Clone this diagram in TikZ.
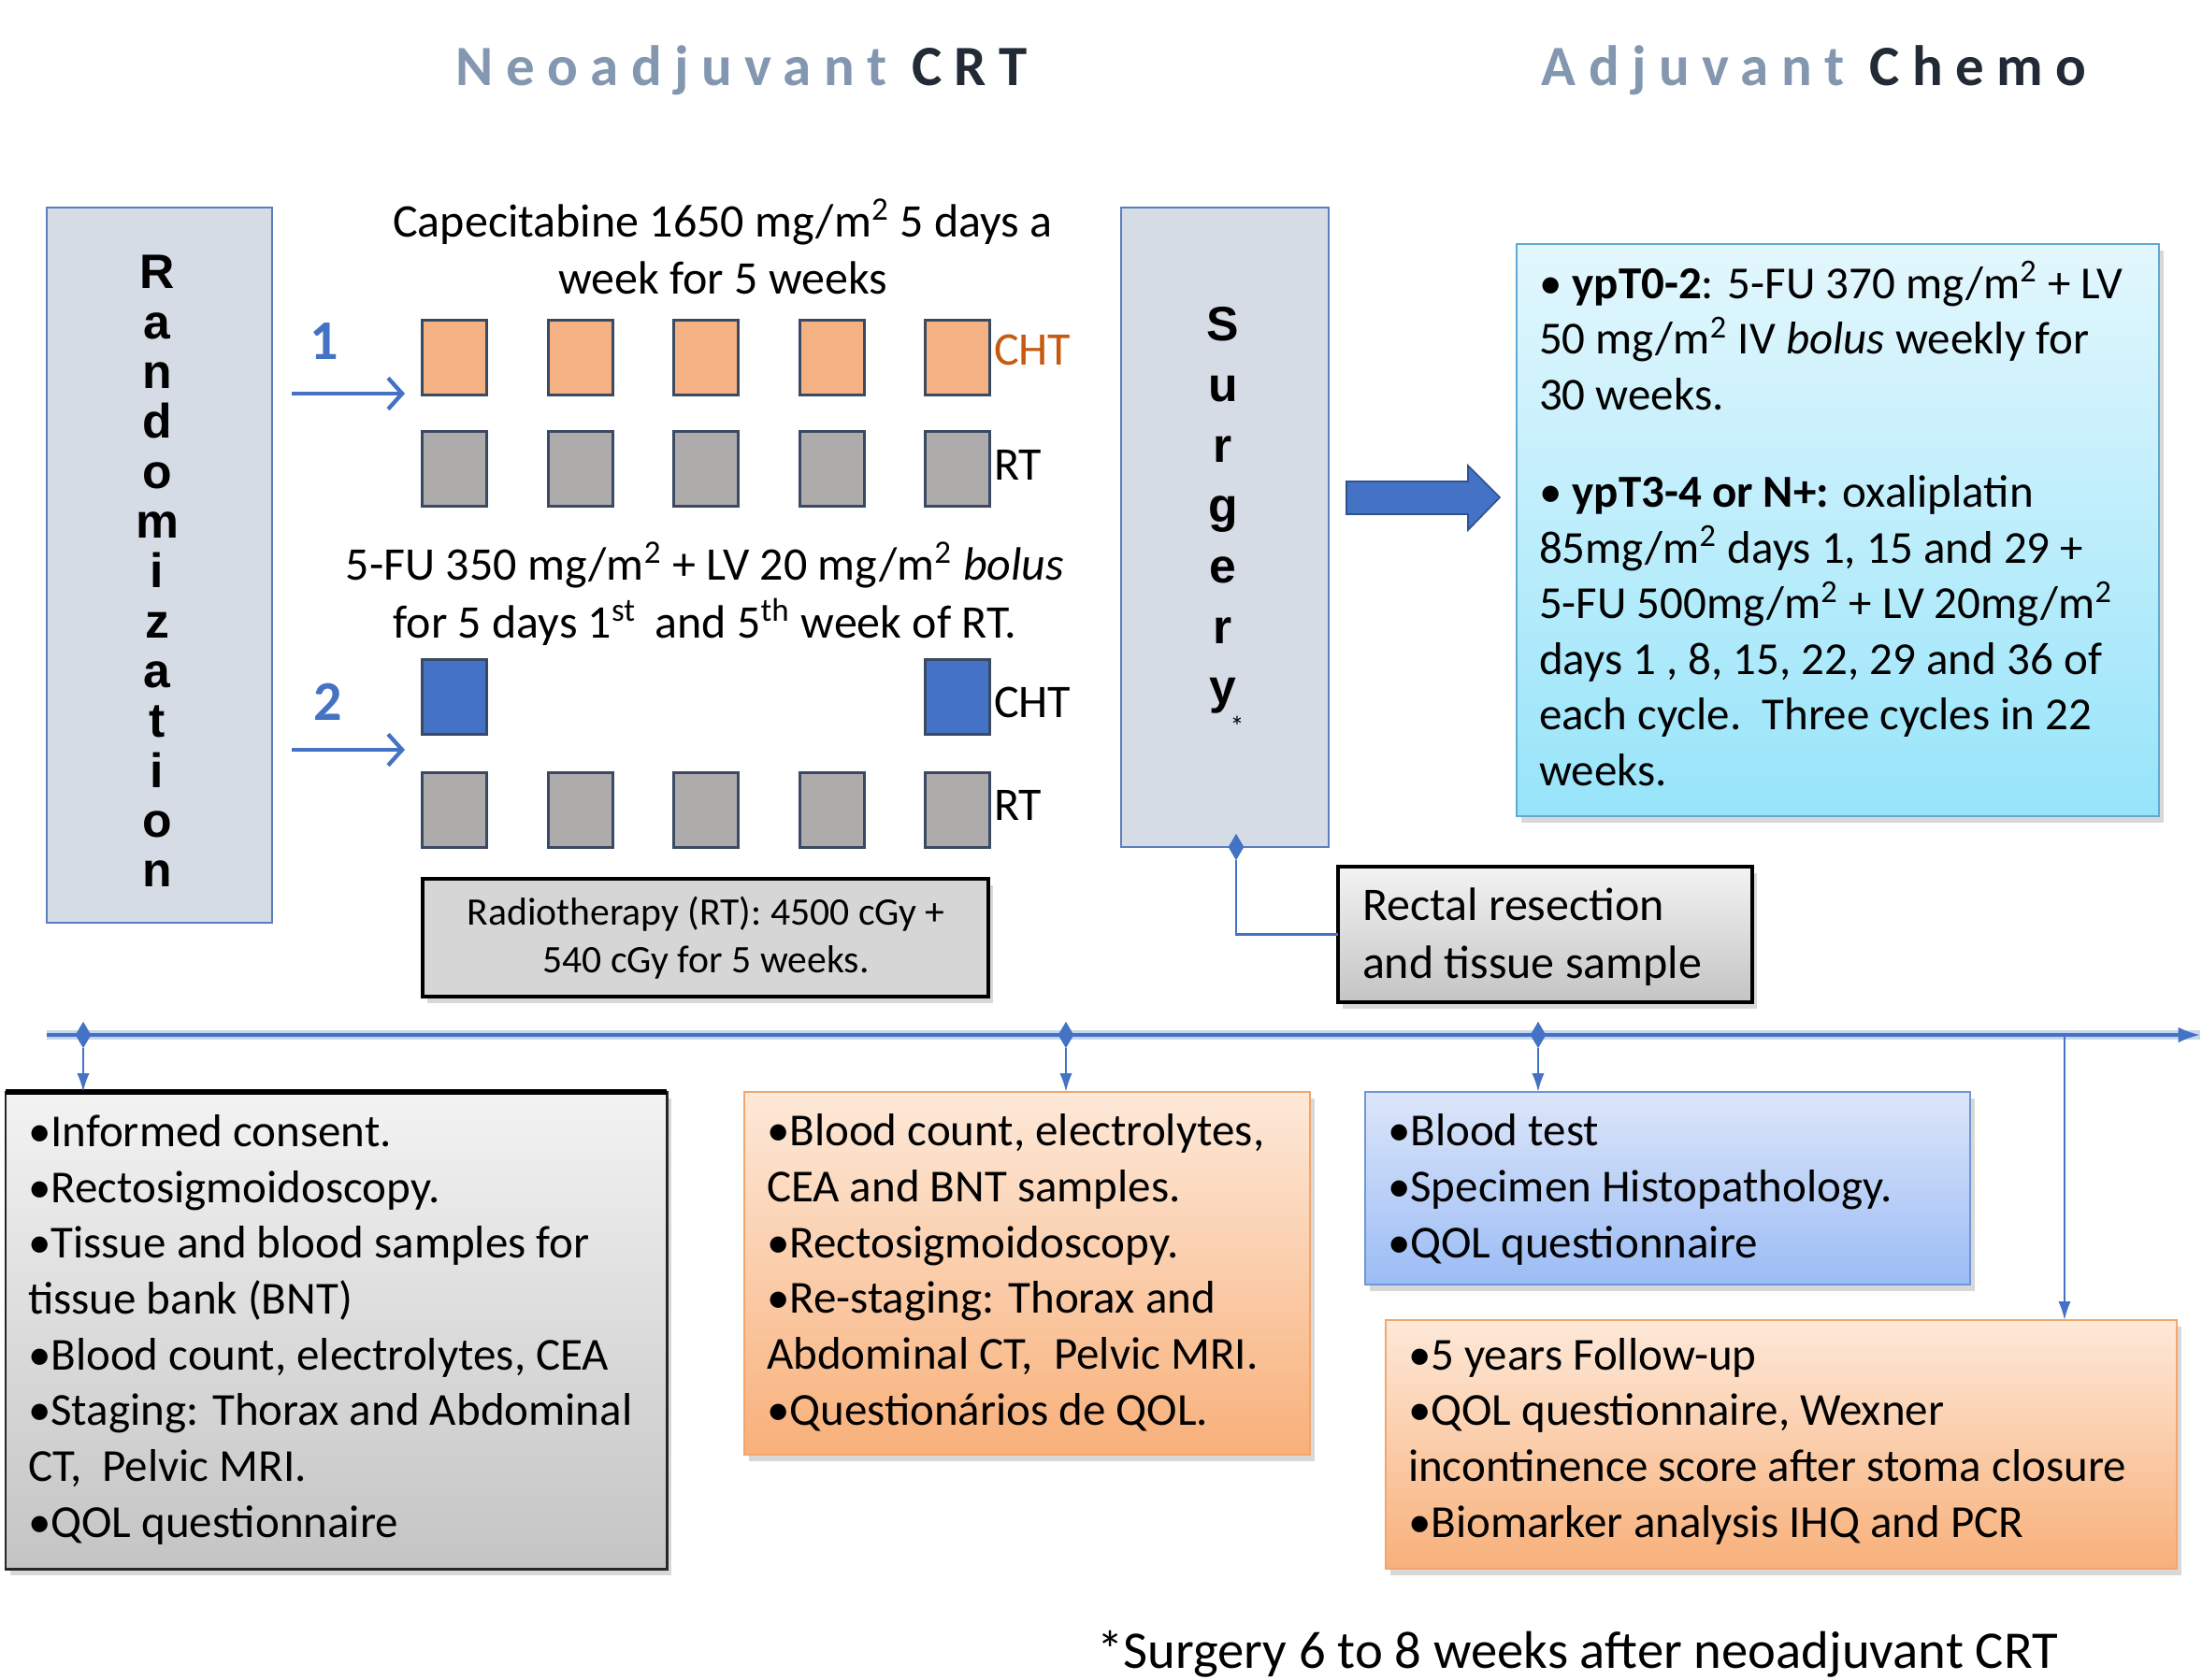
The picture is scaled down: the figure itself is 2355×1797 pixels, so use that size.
\documentclass[tikz,border=0pt]{standalone}
\usepackage{fontspec}
\setmainfont{Carlito}
\newfontfamily\vertfont{Liberation Sans}
\newfontfamily\titlefont{Carlito}[LetterSpace=22]
\usetikzlibrary{fit,shapes.geometric,shadows,arrows.meta}
\newcommand\myfs[2]{\fontsize{#1}{#2}\selectfont}
\definecolor{randfill}{HTML}{D6DCE5}
\definecolor{randdraw}{HTML}{5B7DBD}
\definecolor{sqdraw}{HTML}{3B4A63}
\definecolor{orsq}{HTML}{F4B183}
\definecolor{grsq}{HTML}{AEABAB}
\definecolor{blsq}{HTML}{4472C4}
\definecolor{chtor}{HTML}{C55A11}
\definecolor{ttlgray}{HTML}{8497B0}
\definecolor{ttldark}{HTML}{222A35}
\definecolor{connc}{HTML}{4472C4}
\definecolor{adjtop}{HTML}{E3F7FD}
\definecolor{adjbot}{HTML}{97E4FA}
\definecolor{adjdraw}{HTML}{5FAAD0}
\definecolor{grtop}{HTML}{F3F3F3}
\definecolor{grbot}{HTML}{C4C4C4}
\definecolor{ortop}{HTML}{FDE9D9}
\definecolor{orbot}{HTML}{F8B07A}
\definecolor{ordraw}{HTML}{F2A66C}
\definecolor{bltop}{HTML}{DCE6F9}
\definecolor{blbot}{HTML}{9BBCF5}
\definecolor{bldraw}{HTML}{7196D6}
\definecolor{rtfill}{HTML}{D6D6D6}
\definecolor{bigdraw}{HTML}{2F528F}
\begin{document}
\begin{tikzpicture}[x=0.3pt,y=-0.3pt,
  every node/.style={inner sep=0pt,outer sep=0pt},
  tallbox/.style={draw=randdraw,fill=randfill,line width=0.8pt},
  sqbox/.style={draw=sqdraw,line width=0.9pt,minimum width=20.7pt,minimum height=24pt},
  lbl/.style={font=\myfs{15}{18},anchor=mid west},
  vert/.style={font=\vertfont\bfseries\myfs{15.5}{16},align=center},
  numlbl/.style={font=\bfseries\myfs{18}{20},text=connc},
  bluearr/.style={draw=connc,line width=1.3pt,-{Straight Barb[length=4.5pt,width=10pt]}},
  connline/.style={draw=connc,line width=0.7pt},
  connarr/.style={draw=connc,line width=0.7pt,-{Latex[length=6pt,width=4pt]}},
  dmd/.style={diamond,fill=connc,minimum width=5pt,minimum height=8.5pt},
  shad/.style={drop shadow={shadow xshift=1.5pt,shadow yshift=-2pt,opacity=0.3}},
  boxtxt/.style={font=\myfs{14.7}{17.9},align=left,anchor=base west},
  ttl/.style={font=\titlefont\bfseries\myfs{18.3}{21}}
]
\useasboundingbox[fill=white] (0,0) rectangle (2355,1797);

% titles
\node[ttl] (t1) at (793,75) {\textcolor{ttlgray}{Neoadjuvant} \textcolor{ttldark}{CRT}};
\node[ttl] (t2) at (1940,75) {\textcolor{ttlgray}{Adjuvant} \textcolor{ttldark}{Chemo}};

% randomization
\node[tallbox,fit={(50,222) (291,987)}] (rand) {};
\node[vert] (randtxt) at (168,611) {R\\a\\n\\d\\o\\m\\i\\z\\a\\t\\i\\o\\n};

% surgery
\node[tallbox,fit={(1199,222) (1421,906)}] (surg) {};
\node[vert,font=\vertfont\bfseries\myfs{15.5}{19.4}] (surgtxt) at (1308,546) {S\\u\\r\\g\\e\\r\\y};
\node[font=\myfs{9}{10}] (ast) at (1323,777) {*};

% texts of arms
\node[font=\myfs{15}{18.5},align=center,anchor=base] (capetxt) at (773,315) {Capecitabine 1650 mg/m\textsuperscript{2} 5 days a\\week for 5 weeks};
\node[font=\myfs{15}{18.5},align=center,anchor=base] (futxt) at (754,682) {5-FU 350 mg/m\textsuperscript{2} + LV 20 mg/m\textsuperscript{2} \emph{bolus}\\for 5 days 1\textsuperscript{st}\, and 5\textsuperscript{th} week of RT.};

% squares
\foreach \x [count=\i] in {486,621,755,890,1024} {
  \node[sqbox,fill=orsq] (o\i) at (\x,382) {};
  \node[sqbox,fill=grsq] (g\i) at (\x,501) {};
  \node[sqbox,fill=grsq] (h\i) at (\x,866) {};
}
\node[sqbox,fill=blsq] (b1) at (486,745) {};
\node[sqbox,fill=blsq] (b5) at (1024,745) {};

\node[lbl,text=chtor] (cht1) at (1063,383) {CHT};
\node[lbl] (rt1) at (1063,506) {RT};
\node[lbl] (cht2) at (1063,760) {CHT};
\node[lbl] (rt2) at (1063,870) {RT};

% arm arrows
\coordinate (a1s) at (312,421); \coordinate (a1e) at (433,421);
\coordinate (a2s) at (312,802); \coordinate (a2e) at (433,802);
\draw[bluearr] (a1s) -- (a1e);
\draw[bluearr] (a2s) -- (a2e);
\node[numlbl] (n1) at (347,365) {1};
\node[numlbl] (n2) at (351,751) {2};

% radiotherapy box
\node[fit={(452,940) (1057,1066)},draw=black,line width=1.1pt,fill=rtfill,shad] (rtbox) {};
\node[font=\myfs{12.5}{15.3},align=center,anchor=base] (rttxt) at (755,1040) {Radiotherapy (RT): 4500 cGy +\\540 cGy for 5 weeks.};

% big arrow
\filldraw[fill=blsq,draw=bigdraw,line width=0.5pt] (1440,515) -- (1570,515) -- (1570,498) -- (1604,532) -- (1570,567) -- (1570,550) -- (1440,550) -- cycle;

% adjuvant box
\node[fit={(1622,261) (2309,873)},draw=adjdraw,line width=0.8pt,top color=adjtop,bottom color=adjbot,shad] (adj) {};
\node[boxtxt,font=\myfs{14.7}{17.85}] (adjtxt) at (1646,840) {%
• \textbf{ypT0-2}: 5-FU 370 mg/m\textsuperscript{2} + LV\\
50 mg/m\textsuperscript{2} IV \emph{bolus} weekly for\\
30 weeks.\\[13.4pt]
• \textbf{ypT3-4 or N+:} oxaliplatin\\
85mg/m\textsuperscript{2} days 1, 15 and 29 +\\
5-FU 500mg/m\textsuperscript{2} + LV 20mg/m\textsuperscript{2}\\
days 1 , 8, 15, 22, 29 and 36 of\\
each cycle.\ \ Three cycles in 22\\
weeks.};

% rectal resection
\node[fit={(1431,927) (1874,1072)},draw=black,line width=1pt,top color=grtop,bottom color=grbot,shad] (rect) {};
\node[boxtxt,font=\myfs{15}{18.6}] (recttxt) at (1457,1046) {Rectal resection\\and tissue sample};
\node[dmd] (dS) at (1322,906) {};
\draw[connline] (dS) |- (rect.west);

% timeline
\coordinate (tlS) at (50,1107);
\coordinate (tlE) at (2353,1107);
\draw[draw=connc!30,line width=3pt] (tlS) -- (tlE);
\draw[draw=connc,line width=1pt,-{Latex[length=7pt,width=5pt]}] (tlS) -- (tlE);

% bottom boxes
\node[fit={(6,1168) (713,1678)},draw=black!85,line width=0.9pt,top color=grtop,bottom color=grbot,shad] (boxA) {};
\draw[line width=1.8pt] (boxA.north west) -- (boxA.north east);
\node[boxtxt] (txtA) at (30,1644) {%
•Informed consent.\\
•Rectosigmoidoscopy.\\
•Tissue and blood samples for\\
tissue bank (BNT)\\
•Blood count, electrolytes, CEA\\
•Staging: Thorax and Abdominal\\
CT,\ \ Pelvic MRI.\\
•QOL questionnaire};

\node[fit={(796,1168) (1401,1556)},draw=ordraw,line width=0.8pt,top color=ortop,bottom color=orbot,shad] (boxB) {};
\node[boxtxt] (txtB) at (820,1524) {%
•Blood count, electrolytes,\\
CEA and BNT samples.\\
•Rectosigmoidoscopy.\\
•Re-staging: Thorax and\\
Abdominal CT,\ \ Pelvic MRI.\\
•Questionários de QOL.};

\node[fit={(1460,1168) (2107,1374)},draw=bldraw,line width=0.8pt,top color=bltop,bottom color=blbot,shad] (boxC) {};
\node[boxtxt] (txtC) at (1484,1345) {%
•Blood test\\
•Specimen Histopathology.\\
•QOL questionnaire};

\node[fit={(1482,1412) (2328,1678)},draw=ordraw,line width=0.8pt,top color=ortop,bottom color=orbot,shad] (boxD) {};
\node[boxtxt] (txtD) at (1506,1644) {%
•5 years Follow-up\\
•QOL questionnaire, Wexner\\
incontinence score after stoma closure\\
•Biomarker analysis IHQ and PCR};

% diamonds and drops
\node[dmd] (dA) at (89,1107) {};
\node[dmd] (dB) at (1140,1107) {};
\node[dmd] (dC) at (1645,1107) {};
\coordinate (tD) at (2208,1107);
\draw[connarr] (dA) -- (boxA.north -| dA);
\draw[connarr] (dB) -- (boxB.north -| dB);
\draw[connarr] (dC) -- (boxC.north -| dC);
\draw[connarr] (tD) -- (boxD.north -| tD);

% footnote
\node[font=\myfs{17}{20}] (foot) at (1687,1769) {*Surgery 6 to 8 weeks after neoadjuvant CRT};
\end{tikzpicture}
\end{document}
